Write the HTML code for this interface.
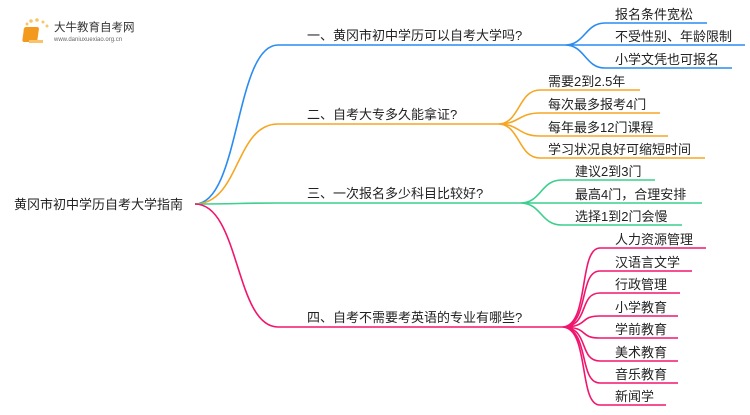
<!DOCTYPE html>
<html><head><meta charset="utf-8">
<style>
html,body{margin:0;padding:0;background:#fff;}
svg text{font-family:"Liberation Sans","Noto Sans CJK SC",sans-serif;fill:#222;}
</style></head>
<body>
<svg width="750" height="410" viewBox="0 0 750 410" xmlns="http://www.w3.org/2000/svg">
<g>
<circle cx="25" cy="30" r="1.5" fill="#f7c56a"/><circle cx="27" cy="24" r="1.5" fill="#f7c56a"/>
<circle cx="31" cy="21" r="1.8" fill="#f7c56a"/><circle cx="37" cy="20" r="1.8" fill="#f7c56a"/>
<circle cx="43" cy="22" r="1.5" fill="#f7c56a"/><circle cx="47" cy="26" r="1.5" fill="#f7c56a"/>
<rect x="28" y="27" width="15" height="15" rx="2" fill="#f39a1e" transform="skewX(-8)"/>
<rect x="29" y="40" width="14" height="3" fill="#f9c36b"/>
<text x="54" y="31" font-size="11.5" style="fill:#333">大牛教育自考网</text>
<text x="54" y="41" font-size="6" style="fill:#666">www.daniuxuexiao.org.cn</text>
</g>
<text x="14" y="209" font-size="13">黄冈市初中学历自考大学指南</text>
<g fill="none" stroke-width="1.6">
<path d="M195,204 C240,204 235,45 278,45 L565,45" stroke="#2a8cf0"/>
<path d="M565,45 C585,45 585,23 605,23 L707,23 M565,45 L745,45 M565,45 C585,45 585,68 605,68 L732,68" stroke="#2a8cf0"/>
<path d="M195,204 C240,204 235,124 278,124 L498,124" stroke="#f5a623"/>
<path d="M498,124 C520,124 518,90 540,90 L640,90 M498,124 C520,124 518,113 540,113 L660,113 M498,124 C520,124 518,136 540,136 L668,136 M498,124 C520,124 518,158 540,158 L705,158" stroke="#f5a623"/>
<path d="M195,204 C240,204 235,203 278,203 L520,203" stroke="#3ccf8e"/>
<path d="M520,203 C542,203 540,180 562,180 L655,180 M520,203 L702,203 M520,203 C542,203 540,225 562,225 L682,225" stroke="#3ccf8e"/>
<path d="M195,204 C240,204 235,327 278,327 L562,327" stroke="#f0166e"/>
<path d="M562,327 C590,327 578,248 600,248 L706,248 M562,327 C590,327 578,271 600,271 L692,271 M562,327 C590,327 578,293 600,293 L680,293 M562,327 C590,327 578,316 600,316 L678,316 M562,327 C590,327 578,338 600,338 L678,338 M562,327 C590,327 578,361 600,361 L678,361 M562,327 C590,327 578,383 600,383 L678,383 M562,327 C590,327 578,405 600,405 L666,405" stroke="#f0166e"/>
</g>
<g font-size="13">
<text x="307" y="40">一、黄冈市初中学历可以自考大学吗?</text>
<text x="307" y="119">二、自考大专多久能拿证?</text>
<text x="307" y="198">三、一次报名多少科目比较好?</text>
<text x="307" y="322">四、自考不需要考英语的专业有哪些?</text>
<text x="615" y="19">报名条件宽松</text>
<text x="615" y="41">不受性别、年龄限制</text>
<text x="615" y="64">小学文凭也可报名</text>
<text x="548" y="86">需要2到2.5年</text>
<text x="548" y="109">每次最多报考4门</text>
<text x="548" y="132">每年最多12门课程</text>
<text x="548" y="154">学习状况良好可缩短时间</text>
<text x="575" y="176">建议2到3门</text>
<text x="575" y="199">最高4门，合理安排</text>
<text x="575" y="221">选择1到2门会慢</text>
<text x="615" y="244">人力资源管理</text>
<text x="615" y="267">汉语言文学</text>
<text x="615" y="289">行政管理</text>
<text x="615" y="312">小学教育</text>
<text x="615" y="334">学前教育</text>
<text x="615" y="357">美术教育</text>
<text x="615" y="379">音乐教育</text>
<text x="615" y="401">新闻学</text>
</g>
</svg>
</body></html>
